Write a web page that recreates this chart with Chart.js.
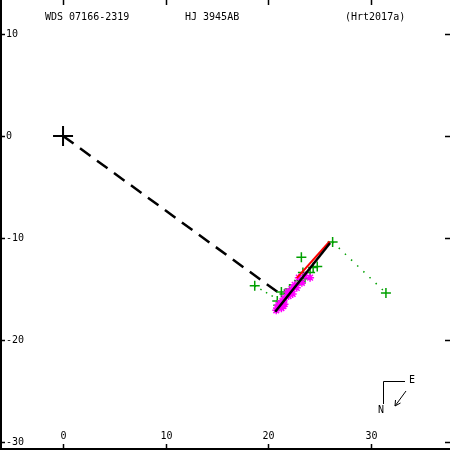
<!DOCTYPE html>
<html>
<head>
<meta charset="utf-8">
<script src="https://cdn.jsdelivr.net/npm/chart.js@4"></script>
<style>
  html, body { margin: 0; padding: 0; background: #fff; }
  #wrap { width: 450px; height: 450px; }
</style>
</head>
<body>
<div id="wrap"><canvas id="orbitChart" width="450" height="450"></canvas></div>
<script>
// axis ticks
const xTicks = [0, 10, 20, 30];
const yTicks = [10, 0, -10, -20, -30];

// primary star and the line to the periastron
const primary = [[0, 0]];
const nodeLine = [[0, 0], [21.6, -15.8]];

// orbit (edge-on) and older orbit segment
const orbitLine = [[20.7, -17.25], [26.05, -10.5]];
const oldOrbit = [[22.8, -13.95], [26.0, -10.35]];

// observations
const greenObs = [
    [26.3, -10.4], [31.5, -15.4], [18.7, -14.7], [23.25, -11.9], [24.4, -12.9],
    [23.4, -13.4], [24.1, -13.4], [23.1, -14.2], [23.6, -14.0], [22.1, -15.0],
    [21.3, -15.3], [20.9, -16.2], [21.6, -15.5], [22.6, -14.6], [24.8, -12.8],
    [21.0, -16.6]
];
const magentaObs = [
    [24.1, -13.9], [23.0, -13.9], [22.6, -14.6], [22.3, -15.0], [21.9, -15.3],
    [22.0, -15.7], [21.6, -15.9], [21.4, -16.2], [21.2, -16.4], [21.0, -16.6],
    [20.9, -16.9], [21.3, -16.9], [21.6, -16.5], [22.4, -15.5], [22.8, -14.9],
    [23.3, -14.4], [23.6, -13.7], [20.8, -17.1], [21.5, -16.7]
];

// residual lines (observation -> predicted position)
const residualA = [[26.3, -10.4], [31.5, -15.4]];
const residualB = [[18.7, -14.7], [20.9, -16.0]];

const titleTexts = ['WDS 07166-2319', 'HJ 3945AB', '(Hrt2017a)'];

const toXY = arr => arr.map(p => ({ x: p[0], y: p[1] }));

const FONT = '10px "DejaVu Sans Mono", monospace';
const GREEN = '#00a000';

const framePlugin = {
    id: 'frame',
    afterDraw(c) {
        const ctx = c.ctx;
        const xs = c.scales.x, ys = c.scales.y;
        const W = c.width, H = c.height;
        ctx.save();
        ctx.strokeStyle = '#000';
        ctx.fillStyle = '#000';
        ctx.lineWidth = 2;

        // left + bottom axis
        ctx.beginPath();
        ctx.moveTo(1, 0);
        ctx.lineTo(1, H - 1);
        ctx.lineTo(W, H - 1);
        ctx.stroke();

        ctx.font = FONT;
        ctx.lineWidth = 1.5;

        // x ticks
        ctx.textAlign = 'center';
        ctx.textBaseline = 'middle';
        xTicks.forEach(v => {
            const px = Math.round(xs.getPixelForValue(v)) + 0.5;
            ctx.beginPath();
            ctx.moveTo(px, 0); ctx.lineTo(px, 5);
            ctx.moveTo(px, H); ctx.lineTo(px, H - 6);
            ctx.stroke();
            ctx.fillText(String(v), px, H - 14);
        });

        // y ticks
        ctx.textAlign = 'left';
        yTicks.forEach(v => {
            const py = Math.round(ys.getPixelForValue(v)) + 0.5;
            ctx.beginPath();
            ctx.moveTo(0, py); ctx.lineTo(5, py);
            ctx.moveTo(W - 5, py); ctx.lineTo(W, py);
            ctx.stroke();
            ctx.fillText(String(v), 6, py);
        });

        // title texts
        ctx.textAlign = 'left';
        ctx.fillText(titleTexts[0], 45, 17);
        ctx.fillText(titleTexts[1], 185, 17);
        ctx.fillText(titleTexts[2], 345, 17);

        // compass
        ctx.lineWidth = 1;
        ctx.beginPath();
        ctx.moveTo(383.5, 404);
        ctx.lineTo(383.5, 381.5);
        ctx.lineTo(405, 381.5);
        ctx.stroke();
        ctx.fillText('E', 409, 380);
        ctx.fillText('N', 378, 410);
        ctx.beginPath();
        ctx.moveTo(406, 391);
        ctx.lineTo(395, 406);
        ctx.moveTo(395, 406);
        ctx.lineTo(395.5, 400);
        ctx.moveTo(395, 406);
        ctx.lineTo(400.5, 403);
        ctx.stroke();

        ctx.restore();
    }
};

new Chart(document.getElementById('orbitChart'), {
    type: 'scatter',
    data: {
        datasets: [
            {
                data: toXY(orbitLine), showLine: true, borderColor: '#000',
                borderWidth: 2.5, pointRadius: 0, order: 0
            },
            {
                data: toXY(oldOrbit), showLine: true, borderColor: '#ff0000',
                borderWidth: 2, pointRadius: 0, order: 1
            },
            {
                data: toXY(magentaObs), pointStyle: 'star', pointRadius: 4,
                borderColor: '#ff00ff', borderWidth: 1.5, backgroundColor: '#ff00ff', order: 2
            },
            {
                data: toXY(greenObs), pointStyle: 'cross', pointRadius: 5,
                borderColor: GREEN, borderWidth: 1.5, order: 3
            },
            {
                data: toXY(residualA), showLine: true, borderColor: GREEN,
                borderWidth: 1.5, borderDash: [1.5, 7], pointRadius: 0, order: 4
            },
            {
                data: toXY(residualB), showLine: true, borderColor: GREEN,
                borderWidth: 1.5, borderDash: [1.5, 5], pointRadius: 0, order: 4
            },
            {
                data: toXY(nodeLine), showLine: true, borderColor: '#000',
                borderWidth: 2.5, borderDash: [13, 8], pointRadius: 0, order: 5
            },
            {
                data: toXY(primary), pointStyle: 'cross', pointRadius: 10,
                borderColor: '#000', borderWidth: 2, order: 5
            }
        ]
    },
    options: {
        responsive: false,
        animation: false,
        layout: { padding: 0, autoPadding: false },
        scales: {
            x: { type: 'linear', min: -6.15, max: 37.75, display: false },
            y: { type: 'linear', min: -30.8, max: 13.33, display: false }
        },
        plugins: {
            legend: { display: false },
            tooltip: { enabled: false }
        }
    },
    plugins: [framePlugin]
});
</script>
</body>
</html>
